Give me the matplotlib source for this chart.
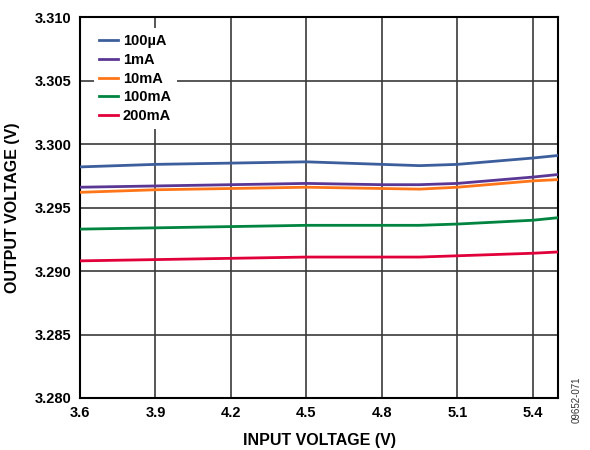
import matplotlib
matplotlib.use('Agg')
import matplotlib.pyplot as plt

matplotlib.rcParams['font.family'] = 'sans-serif'
matplotlib.rcParams['font.sans-serif'] = ['Liberation Sans', 'Arial', 'DejaVu Sans']
matplotlib.rcParams['font.weight'] = 'bold'

# input voltage (V)
vin = [3.6, 3.9, 4.2, 4.5, 4.8, 4.95, 5.1, 5.4, 5.5]

# output voltage (V) per load current
v_100uA = [3.2982, 3.2984, 3.2985, 3.2986, 3.2984, 3.2983, 3.2984, 3.2989, 3.2991]
v_1mA = [3.2966, 3.2967, 3.2968, 3.2969, 3.2968, 3.2968, 3.2969, 3.2974, 3.2976]
v_10mA = [3.2962, 3.2964, 3.2965, 3.2966, 3.2965, 3.29645, 3.2966, 3.2971, 3.2972]
v_100mA = [3.2933, 3.2934, 3.2935, 3.2936, 3.2936, 3.2936, 3.2937, 3.2940, 3.2942]
v_200mA = [3.2908, 3.2909, 3.2910, 3.2911, 3.2911, 3.2911, 3.2912, 3.2914, 3.2915]

labels = ['100µA', '1mA', '10mA', '100mA', '200mA']
colors = ['#3D5E9C', '#5A3795', '#FF7518', '#00843F', '#E2003B']

xticks = [3.6, 3.9, 4.2, 4.5, 4.8, 5.1, 5.4]
yticks = [3.280, 3.285, 3.290, 3.295, 3.300, 3.305, 3.310]

fig = plt.figure(figsize=(5.9, 4.5), dpi=100)
ax = fig.add_axes([0.1356, 0.1156, 0.8102, 0.8464])

series = [v_100uA, v_1mA, v_10mA, v_100mA, v_200mA]
for ys, lab, c in zip(series, labels, colors):
    ax.plot(vin, ys, color=c, lw=2.0, label=lab, zorder=3)

ax.set_xlim(3.6, 5.5)
ax.set_ylim(3.280, 3.310)
ax.set_xticks(xticks)
ax.set_xticklabels([f'{t:.1f}' for t in xticks])
ax.set_yticks(yticks)
ax.set_yticklabels([f'{t:.3f}' for t in yticks])
ax.tick_params(axis='both', length=0, labelsize=10.5, pad=6)
ax.grid(True, color='#3a3a3a', lw=1.2)
for s in ax.spines.values():
    s.set_linewidth(1.5)
    s.set_color('black')

ax.set_xlabel('INPUT VOLTAGE (V)', fontsize=11.5, fontweight='bold', labelpad=9)
ax.set_ylabel('OUTPUT VOLTAGE (V)', fontsize=11.5, fontweight='bold', labelpad=11)

leg = ax.legend(loc='upper left', bbox_to_anchor=(0.013, 0.99), frameon=True,
                fontsize=10.5, handlelength=1.25, handletextpad=0.35,
                labelspacing=0.33, borderpad=0.4, fancybox=False)
leg.get_frame().set_edgecolor('none')
leg.get_frame().set_facecolor('white')
leg.get_frame().set_alpha(1.0)
leg.set_zorder(5)

fig.text(0.978, 0.06, '09652-071', rotation=90, fontsize=7, fontweight='normal',
         color='#333333', ha='center', va='bottom')

fig.savefig('out.png', dpi=100)
